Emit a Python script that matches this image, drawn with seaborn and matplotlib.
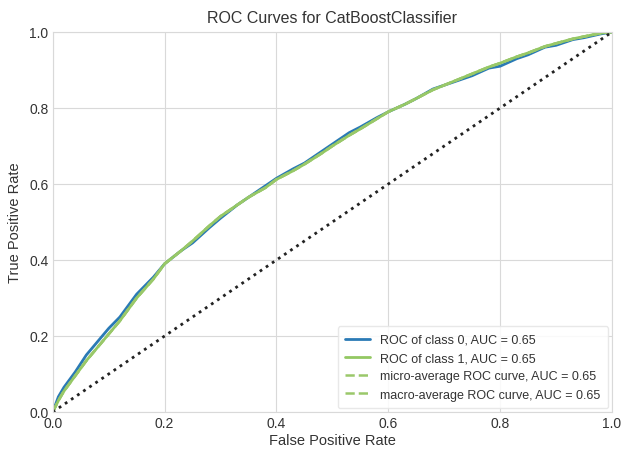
import numpy as np
import pandas as pd
import matplotlib
matplotlib.use("Agg")
import matplotlib.pyplot as plt
import seaborn as sns

# ROC curve points
fpr = [0.0, 0.01, 0.02, 0.04, 0.06, 0.08, 0.10, 0.12, 0.15, 0.18, 0.20, 0.23, 0.25, 0.28,
       0.30, 0.33, 0.35, 0.38, 0.40, 0.43, 0.45, 0.48, 0.50, 0.53, 0.55, 0.58, 0.60,
       0.63, 0.65, 0.68, 0.70, 0.73, 0.75, 0.78, 0.80, 0.83, 0.85, 0.88, 0.90, 0.93,
       0.95, 0.98, 1.0]
tpr_class0 = [0.0, 0.04, 0.065, 0.105, 0.15, 0.185, 0.22, 0.25, 0.31, 0.355, 0.39, 0.425, 0.445, 0.485,
              0.51, 0.545, 0.565, 0.595, 0.615, 0.64, 0.655, 0.685, 0.705, 0.735, 0.75, 0.775, 0.79,
              0.81, 0.825, 0.85, 0.86, 0.875, 0.885, 0.905, 0.91, 0.93, 0.94, 0.96, 0.965, 0.98,
              0.985, 0.995, 1.0]
tpr_class1 = [0.0, 0.03, 0.055, 0.095, 0.135, 0.17, 0.205, 0.24, 0.30, 0.35, 0.39, 0.425, 0.45, 0.49,
              0.515, 0.545, 0.565, 0.59, 0.612, 0.635, 0.652, 0.68, 0.70, 0.728, 0.745, 0.772, 0.79,
              0.81, 0.825, 0.848, 0.86, 0.878, 0.89, 0.908, 0.918, 0.935, 0.945, 0.962, 0.97, 0.982,
              0.988, 0.997, 1.0]
tpr_micro = tpr_class1
tpr_macro = tpr_class1

labels = ["ROC of class 0, AUC = 0.65", "ROC of class 1, AUC = 0.65",
          "micro-average ROC curve, AUC = 0.65", "macro-average ROC curve, AUC = 0.65"]
diag = [0.0, 1.0]
ticks = [0.0, 0.2, 0.4, 0.6, 0.8, 1.0]

sns.set_style("whitegrid", {"grid.color": "#d9d9d9", "axes.edgecolor": "#d9d9d9"})
plt.rcParams['font.family'] = ['Liberation Sans', 'DejaVu Sans']

fig = plt.figure(figsize=(6.21, 4.52), dpi=100)
ax = fig.add_axes([0.085, 0.0863, 0.9005, 0.8407])

sns.lineplot(x=fpr, y=tpr_class0, ax=ax, color="#2a7ab5", lw=2, sort=False,
             estimator=None, label=labels[0])
sns.lineplot(x=fpr, y=tpr_class1, ax=ax, color="#93c862", lw=2, sort=False,
             estimator=None, label=labels[1])
sns.lineplot(x=fpr, y=tpr_micro, ax=ax, color="#9ac86a", lw=1.8, sort=False,
             estimator=None, label=labels[2], linestyle="--")
sns.lineplot(x=fpr, y=tpr_macro, ax=ax, color="#9ac86a", lw=1.8, sort=False,
             estimator=None, label=labels[3], linestyle="--")
ax.plot(diag, diag, linestyle=":", color="#222222", lw=2)

ax.set_xlim(0, 1)
ax.set_ylim(0, 1)
ax.set_xticks(ticks)
ax.set_yticks(ticks)
ax.tick_params(labelsize=10, colors="#333333", length=0, pad=3)
ax.set_xlabel("False Positive Rate", fontsize=10.5, color="#333333", labelpad=2)
ax.set_ylabel("True Positive Rate", fontsize=10.5, color="#333333", labelpad=5)
ax.set_title("ROC Curves for CatBoostClassifier", fontsize=11.5, color="#333333", pad=7)
leg = ax.legend(loc="lower right", fontsize=9, frameon=True, framealpha=0.85,
                edgecolor="#e5e5e5", borderpad=0.6, handlelength=2, borderaxespad=0.3)
for t in leg.get_texts():
    t.set_color("#333333")

fig.savefig("out.png", dpi=100)
